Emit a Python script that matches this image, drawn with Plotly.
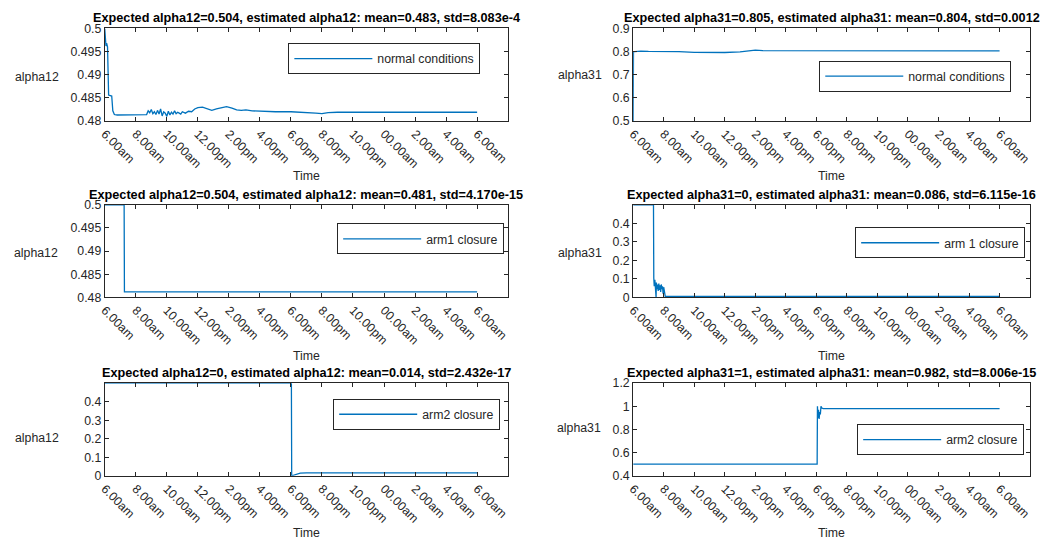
import plotly.graph_objects as go

# ---- time axis (hours after 6.00am) ----
tick_hours = [0, 2, 4, 6, 8, 10, 12, 14, 16, 18, 20, 22, 24]
tick_labels = ["6.00am", "8.00am", "10.00am", "12.00pm", "2.00pm", "4.00pm", "6.00pm",
               "8.00pm", "10.00pm", "00.00am", "2.00am", "4.00am", "6.00am"]

# ---- alpha12, normal conditions ----
t_a12_normal = [0, 0.03, 0.08, 0.12, 0.18, 0.25, 0.45, 0.52, 0.62, 0.8, 1.5, 2.2, 2.7,
                2.8, 2.9, 3.0, 3.1, 3.2, 3.3, 3.4, 3.5, 3.6, 3.7, 3.8, 3.9, 4.0, 4.1,
                4.2, 4.3, 4.4, 4.5, 4.6, 4.7, 4.8, 4.9, 5.0, 5.2, 5.4, 5.6, 5.8, 6.0,
                6.3, 6.6, 6.9, 7.2, 7.5, 7.85, 8.2, 8.5, 8.8, 9.1, 9.5, 10.1, 11, 12,
                13, 13.6, 14.0, 14.4, 15, 17, 20, 24]
a12_normal = [0.5, 0.4990, 0.4962, 0.4968, 0.4960, 0.4856, 0.4854, 0.4822, 0.4814, 0.4813,
              0.4813, 0.4813, 0.4814, 0.4822, 0.4818, 0.4825, 0.4816, 0.4820, 0.4814,
              0.4823, 0.4815, 0.4826, 0.4811, 0.4820, 0.4817, 0.4810, 0.4821, 0.4813,
              0.4819, 0.4815, 0.4822, 0.4816, 0.4819, 0.4817, 0.4815, 0.4820, 0.4817,
              0.4821, 0.4820, 0.4826, 0.4829, 0.4830, 0.4826, 0.4823, 0.4826, 0.4829,
              0.4831, 0.4828, 0.4824, 0.4823, 0.4824, 0.4822, 0.4821, 0.4820, 0.4820,
              0.4819, 0.4817, 0.4816, 0.4818, 0.4819, 0.4819, 0.4819, 0.4819]

# ---- alpha31, normal conditions ----
t_a31_normal = [0, 0.02, 0.1, 0.5, 1, 2, 3, 4, 5, 6, 7, 7.5, 8, 8.5, 9, 10, 12, 14, 16,
                18, 20, 22, 24]
a31_normal = [0.5, 0.800, 0.800, 0.802, 0.801, 0.801, 0.800, 0.797, 0.796, 0.796, 0.799,
              0.803, 0.806, 0.804, 0.804, 0.804, 0.804, 0.805, 0.803, 0.803, 0.805,
              0.803, 0.803]

# ---- alpha12, arm1 closure ----
t_a12_arm1 = [0, 1.25, 1.27, 24]
a12_arm1 = [0.5, 0.5, 0.4812, 0.4812]

# ---- alpha31, arm 1 closure ----
t_a31_arm1 = [0, 1.33, 1.35, 1.38, 1.42, 1.46, 1.50, 1.52, 1.56, 1.60, 1.64, 1.68, 1.72,
              1.76, 1.80, 1.84, 1.88, 1.92, 1.96, 2.0, 2.05, 2.1, 24]
a31_arm1 = [0.5, 0.5, 0.105, 0.06, 0.095, 0.05, 0.0, 0.08, 0.045, 0.07, 0.035, 0.075,
            0.04, 0.065, 0.03, 0.07, 0.045, 0.06, 0.02, 0.055, 0.008, 0.006, 0.006]

# ---- alpha12, arm2 closure ----
t_a12_arm2 = [0, 12.03, 12.05, 12.2, 12.4, 12.6, 13, 24]
a12_arm2 = [0.5, 0.5, 0.0, 0.004, 0.010, 0.014, 0.015, 0.015]

# ---- alpha31, arm2 closure ----
t_a31_arm2 = [0, 12.05, 12.07, 12.1, 12.14, 12.18, 12.22, 12.26, 12.3, 12.36, 12.45, 24]
a31_arm2 = [0.5, 0.5, 1.0, 0.9, 0.97, 0.89, 0.95, 0.93, 1.0, 0.985, 0.98, 0.98]

# ---- y tick values / labels per panel ----
yt_a12_fine = [0.48, 0.485, 0.49, 0.495, 0.5]
yl_a12_fine = ["0.48", "0.485", "0.49", "0.495", "0.5"]
yt_a31_normal = [0.5, 0.6, 0.7, 0.8, 0.9]
yl_a31_normal = ["0.5", "0.6", "0.7", "0.8", "0.9"]
yt_low = [0, 0.1, 0.2, 0.3, 0.4]
yl_low = ["0", "0.1", "0.2", "0.3", "0.4"]
yt_a31_arm2 = [0.4, 0.6, 0.8, 1.0, 1.2]
yl_a31_arm2 = ["0.4", "0.6", "0.8", "1", "1.2"]

titles = [
    "Expected alpha12=0.504, estimated alpha12: mean=0.483, std=8.083e-4",
    "Expected alpha31=0.805, estimated alpha31: mean=0.804, std=0.0012",
    "Expected alpha12=0.504, estimated alpha12: mean=0.481, std=4.170e-15",
    "Expected alpha31=0, estimated alpha31: mean=0.086, std=6.115e-16",
    "Expected alpha12=0, estimated alpha12: mean=0.014, std=2.432e-17",
    "Expected alpha31=1, estimated alpha31: mean=0.982, std=8.006e-15",
]
legend_names = ["normal conditions", "normal conditions", "arm1 closure",
                "arm 1 closure", "arm2 closure", "arm2 closure"]
ylabels = ["alpha12", "alpha31", "alpha12", "alpha31", "alpha12", "alpha31"]

series = [
    (t_a12_normal, a12_normal), (t_a31_normal, a31_normal),
    (t_a12_arm1, a12_arm1), (t_a31_arm1, a31_arm1),
    (t_a12_arm2, a12_arm2), (t_a31_arm2, a31_arm2),
]
yticks = [
    (yt_a12_fine, yl_a12_fine, [0.48, 0.5]),
    (yt_a31_normal, yl_a31_normal, [0.5, 0.9]),
    (yt_a12_fine, yl_a12_fine, [0.48, 0.5]),
    (yt_low, yl_low, [0, 0.5]),
    (yt_low, yl_low, [0, 0.5]),
    (yt_a31_arm2, yl_a31_arm2, [0.4, 1.2]),
]

# ---- page geometry (pixels) ----
W, H = 1048, 550
col_x = [(99.5, 506.0), (632.0, 1032.0)]
row_y = [(22.0, 117.0), (203.0, 298.0), (386.0, 481.0)]
# legend boxes: right edge, top edge
legend_box = [(478, 37), (1013, 55), (502, 222), (1027, 226), (498, 402), (1026, 428)]
# y label anchor: right edge x, centre y
ylabel_pos = [(55, 72), (603, 70), (54, 252), (603, 252), (55, 442), (602, 432)]
time_label_y = [173, 173, 358, 358, 540, 540]

INK = "#262626"
BLUE = "#0072BD"
FONT = "Liberation Sans, Arial, Helvetica, sans-serif"

fig = go.Figure()
annotations = []
layout = dict(
    width=W, height=H, margin=dict(l=0, r=0, t=0, b=0),
    paper_bgcolor="white", plot_bgcolor="white",
    font=dict(family=FONT, size=12, color=INK),
    showlegend=True,
)

for i in range(6):
    r, c = divmod(i, 2)
    x0, x1 = col_x[c]
    y0, y1 = row_y[r]
    n = "" if i == 0 else str(i + 1)
    leg = "legend" + n
    t, v = series[i]
    fig.add_trace(go.Scatter(
        x=t, y=v, mode="lines", name=legend_names[i],
        line=dict(color=BLUE, width=1.3),
        xaxis="x" + n, yaxis="y" + n, legend=leg,
    ))
    tv, tl, yr = yticks[i]
    layout["xaxis" + n] = dict(
        domain=[x0 / W, x1 / W], anchor="y" + n, range=[0, 26],
        tickmode="array", tickvals=tick_hours, ticktext=tick_labels,
        tickangle=45, ticks="inside", ticklen=4, tickcolor=INK,
        showline=True, linecolor=INK, linewidth=1, mirror="ticks",
        showgrid=False, zeroline=False,
        tickfont=dict(size=12.3, color=INK, family=FONT),
    )
    layout["yaxis" + n] = dict(
        domain=[1 - y1 / H, 1 - y0 / H], anchor="x" + n, range=yr,
        tickmode="array", tickvals=tv, ticktext=tl,
        ticks="inside", ticklen=4, tickcolor=INK,
        showline=True, linecolor=INK, linewidth=1, mirror="ticks",
        showgrid=False, zeroline=False,
        tickfont=dict(size=12.3, color=INK, family=FONT),
    )
    lx, ly = legend_box[i]
    layout[leg] = dict(
        x=lx / W, y=1 - ly / H, xanchor="right", yanchor="top",
        xref="paper", yref="paper",
        bgcolor="white", bordercolor=INK, borderwidth=1,
        font=dict(size=12.3, color=INK, family=FONT),
        itemwidth=78,
    )
    # title above each panel
    annotations.append(dict(
        x=(x0 + x1) / 2 / W, y=1 - (y0 - 1) / H, xref="paper", yref="paper",
        xanchor="center", yanchor="bottom", showarrow=False,
        text="<b>" + titles[i] + "</b>",
        font=dict(size=12.7, color="black", family=FONT),
    ))
    # horizontal y-axis label
    ax, ay = ylabel_pos[i]
    annotations.append(dict(
        x=ax / W, y=1 - ay / H, xref="paper", yref="paper",
        xanchor="right", yanchor="middle", showarrow=False,
        text=ylabels[i], font=dict(size=12.3, color=INK, family=FONT),
    ))
    # x-axis label
    annotations.append(dict(
        x=(x0 + x1) / 2 / W, y=1 - time_label_y[i] / H, xref="paper", yref="paper",
        xanchor="center", yanchor="middle", showarrow=False,
        text="Time", font=dict(size=12.3, color=INK, family=FONT),
    ))

layout["annotations"] = annotations
fig.update_layout(**layout)
fig.write_html("out.html")
